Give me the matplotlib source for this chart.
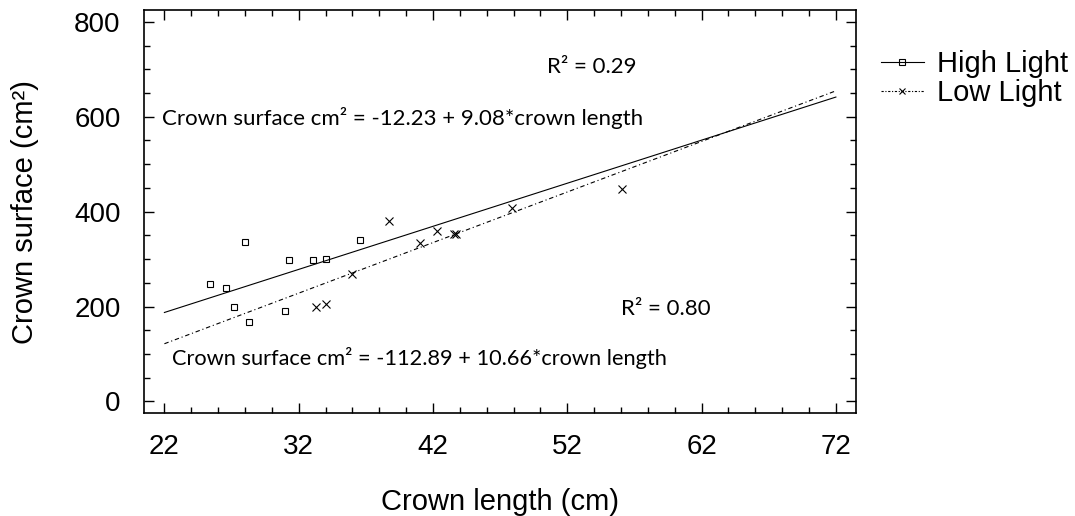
import matplotlib.pyplot as plt
from matplotlib.lines import Line2D
from matplotlib.ticker import MultipleLocator, FixedLocator
import numpy as np

plt.rcParams['font.family'] = ['Liberation Sans', 'DejaVu Sans']

# data
high_x = [25.4, 26.6, 27.2, 28.0, 28.3, 31.3, 31.0, 33.1, 34.0, 36.6]
high_y = [247, 240, 199, 336, 168, 299, 190, 298, 301, 340]
low_x = [33.3, 34.0, 36.0, 38.7, 41.0, 42.3, 43.6, 43.7, 47.9, 56.1]
low_y = [199, 206, 269, 381, 334, 359, 353, 352, 408, 448]

# fitted lines
high_fit = (-12.23, 9.08)
low_fit = (-112.89, 10.66)
fit_range = [22, 72]

fig = plt.figure(figsize=(10.75, 5.16), dpi=100)
ax = fig.add_axes([0.1342, 0.199, 0.6621, 0.7816])

xs = np.array(fit_range)
ax.plot(xs, high_fit[0] + high_fit[1]*xs, color='black', lw=0.8)
ax.plot(xs, low_fit[0] + low_fit[1]*xs, color='black', lw=0.8, dashes=(4, 2.5, 1, 2.5))
ax.plot(high_x, high_y, ls='none', marker='s', mfc='none', mec='black', ms=4, mew=0.8)
ax.plot(low_x, low_y, ls='none', marker='x', color='black', ms=6, mew=0.8)

ax.set_xlim(20.5, 73.5)
ax.set_ylim(-25, 825)
ax.xaxis.set_major_locator(FixedLocator([22, 32, 42, 52, 62, 72]))
ax.xaxis.set_minor_locator(MultipleLocator(2))
ax.yaxis.set_major_locator(MultipleLocator(200))
ax.yaxis.set_minor_locator(MultipleLocator(50))
ax.tick_params(which='both', direction='in', top=True, right=True, width=1)
ax.tick_params(which='major', length=7, labelsize=20)
ax.tick_params(axis='y', which='major', pad=17)
ax.tick_params(axis='x', which='major', pad=15)
ax.tick_params(which='minor', length=4)
for s in ax.spines.values():
    s.set_linewidth(1.2)

ax.set_xlabel("Crown length (cm)", fontsize=21, labelpad=20)
ax.set_ylabel("Crown surface (cm²)", fontsize=21, labelpad=25)

cal = dict(family=['Lato', 'DejaVu Sans'], fontsize=16)
ax.text(53.8, 704, "R² = 0.29", ha='center', va='center', **cal)
ax.text(21.85, 597, "Crown surface cm² = -12.23 + 9.08*crown length", ha='left', va='center', **cal)
ax.text(59.3, 195, "R² = 0.80", ha='center', va='center', **cal)
ax.text(22.55, 92, "Crown surface cm² = -112.89 + 10.66*crown length", ha='left', va='center',
        family=['Lato', 'DejaVu Sans'], fontsize=15.7)

handles = [
    Line2D([], [], color='black', lw=0.8, marker='s', mfc='none', ms=4, mew=0.8),
    Line2D([], [], color='black', lw=0.8, dashes=(2, 1.5, 1, 1.5), marker='x', ms=5, mew=0.8),
]
fig.legend(handles, ["High Light", "Low Light"], loc='upper left',
           bbox_to_anchor=(0.8195, 0.903), frameon=False, fontsize=21, borderpad=0,
           borderaxespad=0, handlelength=1.47, handletextpad=0.45, labelspacing=0.03,
           numpoints=1)

fig.savefig("out.png", dpi=100)
